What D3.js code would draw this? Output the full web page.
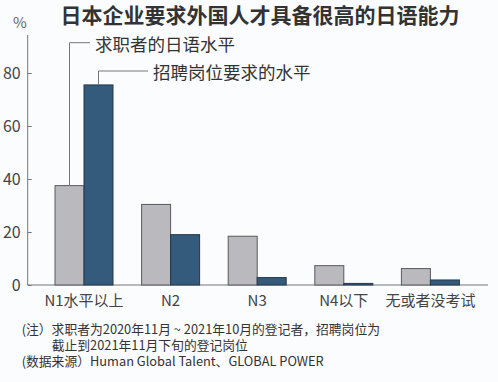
<!DOCTYPE html>
<html><head><meta charset="utf-8">
<script src="https://cdn.jsdelivr.net/npm/d3@7"></script>
<style>
html,body{margin:0;padding:0;background:#fbfcfe;}
text{font-family:"Noto Sans CJK SC","Noto Sans",sans-serif;}
</style></head>
<body><svg id="c" width="498" height="382"></svg>
<script>
const title = "日本企业要求外国人才具备很高的日语能力";
const categories = ["N1水平以上","N2","N3","N4以下","无或者没考试"];
const seriesNames = ["求职者的日语水平","招聘岗位要求的水平"];
const jobSeekers = [37.5, 30.4, 18.4, 7.3, 6.2];
const jobPostings = [75.5, 19.0, 2.8, 0.6, 1.9];
const yTicks = [0,20,40,60,80];
const notes = ["(注）求职者为2020年11月 ~ 2021年10月的登记者，招聘岗位为",
               "截止到2021年11月下旬的登记岗位",
               "(数据来源）Human Global Talent、GLOBAL POWER"];

const svg = d3.select("#c");
const x0 = d3.scaleBand().domain(categories).range([40.7, 473.7]).paddingInner(0).paddingOuter(0);
const x1 = d3.scaleBand().domain([0,1]).range([x0.bandwidth()/2 - 29, x0.bandwidth()/2 + 29]);
const y = d3.scaleLinear().domain([0, 80]).range([285, 73]);

// title
svg.append("text").attr("x", 260).attr("y", 23).attr("text-anchor","middle")
  .attr("font-size", 21).attr("font-weight", 700).attr("fill", "#333").text(title);

// y axis
const yAxis = d3.axisLeft(y).tickValues(yTicks).tickSize(-4).tickPadding(7);
const gy = svg.append("g").attr("transform","translate(27.7,0)").call(yAxis);
gy.select(".domain").remove();
gy.selectAll(".tick line").attr("stroke","#777");
gy.selectAll(".tick text").attr("font-size",16).attr("fill","#444")
  .attr("font-family","'Liberation Sans Narrow','Roboto',sans-serif").attr("dy","0.35em");
svg.append("line").attr("x1",27.7).attr("x2",27.7).attr("y1",35).attr("y2",y(0)).attr("stroke","#777");
svg.append("text").attr("x",20).attr("y",28).attr("text-anchor","middle").attr("font-size",15)
  .attr("fill","#666").text("%");

// x axis
svg.append("line").attr("x1",27.7).attr("x2",488).attr("y1",y(0)).attr("y2",y(0)).attr("stroke","#777");
svg.append("g").selectAll("text").data(categories).join("text")
  .attr("x", d => x0(d) + x0.bandwidth()/2).attr("y", 306).attr("text-anchor","middle")
  .attr("font-size",15).attr("fill","#444").text(d => d);

// bars
const colors = ["#b9b9be","#345b7b"];
const strokes = ["#5a5a5e","#26394b"];
const series = [jobSeekers, jobPostings];
series.forEach((vals, si) => {
  svg.append("g").selectAll("rect").data(vals).join("rect")
    .attr("x", (d,i) => x0(categories[i]) + x1(si))
    .attr("width", x1.bandwidth())
    .attr("y", d => y(d)).attr("height", d => y(0) - y(d))
    .attr("fill", colors[si]).attr("stroke", strokes[si]).attr("stroke-width", 1);
});

// legend callouts
const cx0 = x0(categories[0]) + x1(0) + x1.bandwidth()/2;
const cx1 = x0(categories[0]) + x1(1) + x1.bandwidth()/2;
svg.append("path").attr("d", `M${cx0},${y(jobSeekers[0])}V42.7H90`).attr("fill","none").attr("stroke","#777");
svg.append("text").attr("x",95).attr("y",45).attr("dy","0.35em").attr("font-size",17.5).attr("fill","#333").text(seriesNames[0]);
svg.append("path").attr("d", `M${cx1},${y(jobPostings[0])}V71H148`).attr("fill","none").attr("stroke","#777");
svg.append("text").attr("x",153).attr("y",73).attr("dy","0.35em").attr("font-size",17.5).attr("fill","#333").text(seriesNames[1]);

// notes (one text block, three lines)
const nx = [21.7, 51.7, 21.7], ny = [329.5, 345.5, 361.7];
svg.append("text").attr("font-size",12.8).attr("fill","#333")
  .selectAll("tspan").data(notes).join("tspan")
  .attr("x",(d,i)=>nx[i]).attr("y",(d,i)=>ny[i] + 4.5).text(d=>d);
</script></body></html>
